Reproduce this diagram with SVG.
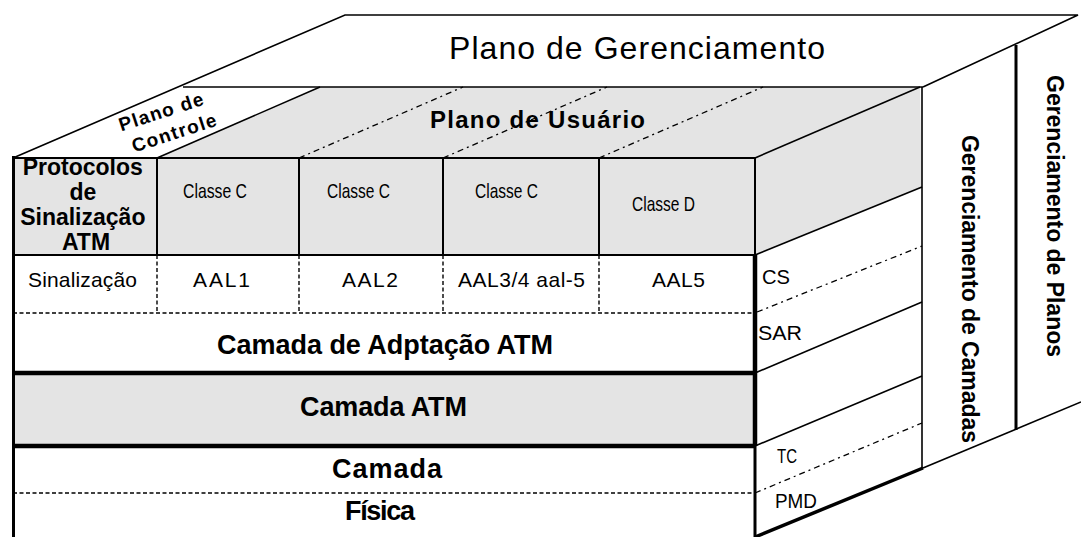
<svg xmlns="http://www.w3.org/2000/svg" width="1081" height="537" viewBox="0 0 1081 537">
<style>
  .ln{stroke:#000;fill:none;stroke-width:1.6}
  .th{stroke:#000;fill:none;stroke-width:2}
  .tk{stroke:#000;fill:none;stroke-width:4.5}
  .ds{stroke:#000;fill:none;stroke-width:1.4;stroke-dasharray:4 2.5}
  .dd{stroke:#000;fill:none;stroke-width:1.3;stroke-dasharray:6 4 2 4}
  .gray{fill:#e4e4e4}
  text{font-family:"Liberation Sans",Arial,sans-serif;fill:#000}
  .b{font-weight:bold}
  .cl{font-size:21px}
  .r2{font-size:21px}
  .big{font-size:27px;font-weight:bold}
  .side{font-size:20px}
  .vt{font-size:23px;font-weight:bold}
</style>
<rect width="1081" height="537" fill="#fff"/>

<g id="fills">
  <polygon class="gray" points="157,158 320,87 920,87 755,158"/>
  <polygon class="gray" points="755,158 920,87 922,187 755,255"/>
  <rect class="gray" x="13" y="158" width="742" height="97"/>
  <rect class="gray" x="13" y="373" width="742" height="73"/>
</g>

<g id="plano-gerenciamento">
  <text x="449" y="59" font-size="32" textLength="376">Plano de Gerenciamento</text>
</g>

<g id="plano-controle">
  <text class="b" font-size="19" text-anchor="middle" textLength="88" transform="translate(163,118) rotate(-18)">Plano de</text>
  <text class="b" font-size="19" text-anchor="middle" textLength="88" transform="translate(176,139) rotate(-18)">Controle</text>
</g>

<g id="plano-usuario">
  <text class="b" x="430" y="128" font-size="24" textLength="215">Plano de Usuário</text>
</g>

<g id="protocolos">
  <text class="b" font-size="23" text-anchor="middle">
    <tspan x="86" y="175">Protocolos</tspan>
    <tspan x="86" y="200">de</tspan>
    <tspan x="86" y="225">Sinalização</tspan>
    <tspan x="86" y="250">ATM</tspan>
  </text>
</g>

<g id="classes">
  <text class="cl" x="183" y="198" textLength="64" lengthAdjust="spacingAndGlyphs">Classe C</text>
  <text class="cl" x="327" y="198" textLength="63" lengthAdjust="spacingAndGlyphs">Classe C</text>
  <text class="cl" x="475" y="198" textLength="63" lengthAdjust="spacingAndGlyphs">Classe C</text>
  <text class="cl" x="632" y="211" textLength="63" lengthAdjust="spacingAndGlyphs">Classe D</text>
</g>

<g id="aal-row">
  <text class="r2" x="28" y="287" textLength="109">Sinalização</text>
  <text class="r2" x="193" y="287" textLength="57">AAL1</text>
  <text class="r2" x="342" y="287" textLength="56">AAL2</text>
  <text class="r2" x="458" y="287" textLength="127">AAL3/4 aal-5</text>
  <text class="r2" x="652" y="287" textLength="53">AAL5</text>
</g>

<g id="camada-adaptacao">
  <text class="big" x="217" y="354" textLength="336">Camada de Adptação ATM</text>
</g>
<g id="camada-atm">
  <text class="big" x="300" y="416" textLength="167">Camada ATM</text>
</g>
<g id="camada-fisica">
  <text class="big" x="332" y="478" textLength="110">Camada</text>
  <text class="big" x="345" y="520" textLength="70">Física</text>
</g>

<g id="sublayers">
  <text class="side" x="762" y="284" textLength="28" lengthAdjust="spacingAndGlyphs">CS</text>
  <text class="side" x="758" y="340" textLength="44" lengthAdjust="spacingAndGlyphs">SAR</text>
  <text class="side" x="777" y="463" font-size="19" textLength="20" lengthAdjust="spacingAndGlyphs">TC</text>
  <text class="side" x="775" y="508" font-size="20" textLength="42" lengthAdjust="spacingAndGlyphs">PMD</text>
</g>

<g id="gerenciamento-camadas">
  <text class="vt" text-anchor="middle" textLength="308" transform="translate(962,289) rotate(90)">Gerenciamento de Camadas</text>
</g>
<g id="gerenciamento-planos">
  <text class="vt" text-anchor="middle" textLength="282" transform="translate(1047,216) rotate(90)">Gerenciamento de Planos</text>
</g>

<g id="connectors">
  <path class="ln" d="M13,158 L345,15 L1078,15 L923,87"/>
  <line class="ln" x1="183" y1="87" x2="923" y2="87"/>
  <line class="ln" x1="157" y1="158" x2="320" y2="87"/>
  <line class="ln" x1="755" y1="158" x2="920" y2="87"/>
  <line class="dd" x1="299" y1="158" x2="463" y2="87"/>
  <line class="dd" x1="443" y1="158" x2="607" y2="87"/>
  <line class="dd" x1="599" y1="158" x2="763" y2="87"/>
  <line class="ln" x1="922" y1="87" x2="922" y2="468"/>
  <line class="ln" x1="755" y1="255" x2="922" y2="187"/>
  <line class="dd" x1="757" y1="312" x2="922" y2="246"/>
  <line class="ln" x1="755" y1="373" x2="922" y2="302"/>
  <line class="ln" x1="755" y1="446" x2="922" y2="376"/>
  <line class="dd" x1="755" y1="493" x2="922" y2="423"/>
  <line stroke="#000" stroke-width="3.5" x1="755" y1="537" x2="923" y2="468"/>
  <line class="ln" x1="923" y1="468" x2="1081" y2="402"/>
  <line stroke="#000" stroke-width="3" x1="1016" y1="45" x2="1016" y2="430"/>
  <line class="th" x1="13" y1="158" x2="755" y2="158"/>
  <line class="th" x1="13" y1="255" x2="755" y2="255"/>
  <line class="th" x1="157" y1="158" x2="157" y2="255"/>
  <line class="th" x1="299" y1="158" x2="299" y2="255"/>
  <line class="th" x1="443" y1="158" x2="443" y2="255"/>
  <line class="th" x1="599" y1="158" x2="599" y2="255"/>
  <line class="ds" x1="157" y1="255" x2="157" y2="313"/>
  <line class="ds" x1="299" y1="255" x2="299" y2="313"/>
  <line class="ds" x1="443" y1="255" x2="443" y2="313"/>
  <line class="ds" x1="599" y1="255" x2="599" y2="313"/>
  <line class="ds" x1="13" y1="313" x2="755" y2="313"/>
  <line class="tk" x1="13" y1="373" x2="755" y2="373"/>
  <line class="tk" x1="13" y1="446" x2="755" y2="446"/>
  <line class="ds" x1="13" y1="493" x2="755" y2="493"/>
  <line stroke="#000" stroke-width="3" x1="13.5" y1="156" x2="13.5" y2="537"/>
  <line class="th" x1="755" y1="158" x2="755" y2="255"/>
  <line class="tk" x1="755" y1="255" x2="755" y2="446"/>
  <line stroke="#000" stroke-width="3" x1="755" y1="446" x2="755" y2="537"/>
</g>
</svg>
